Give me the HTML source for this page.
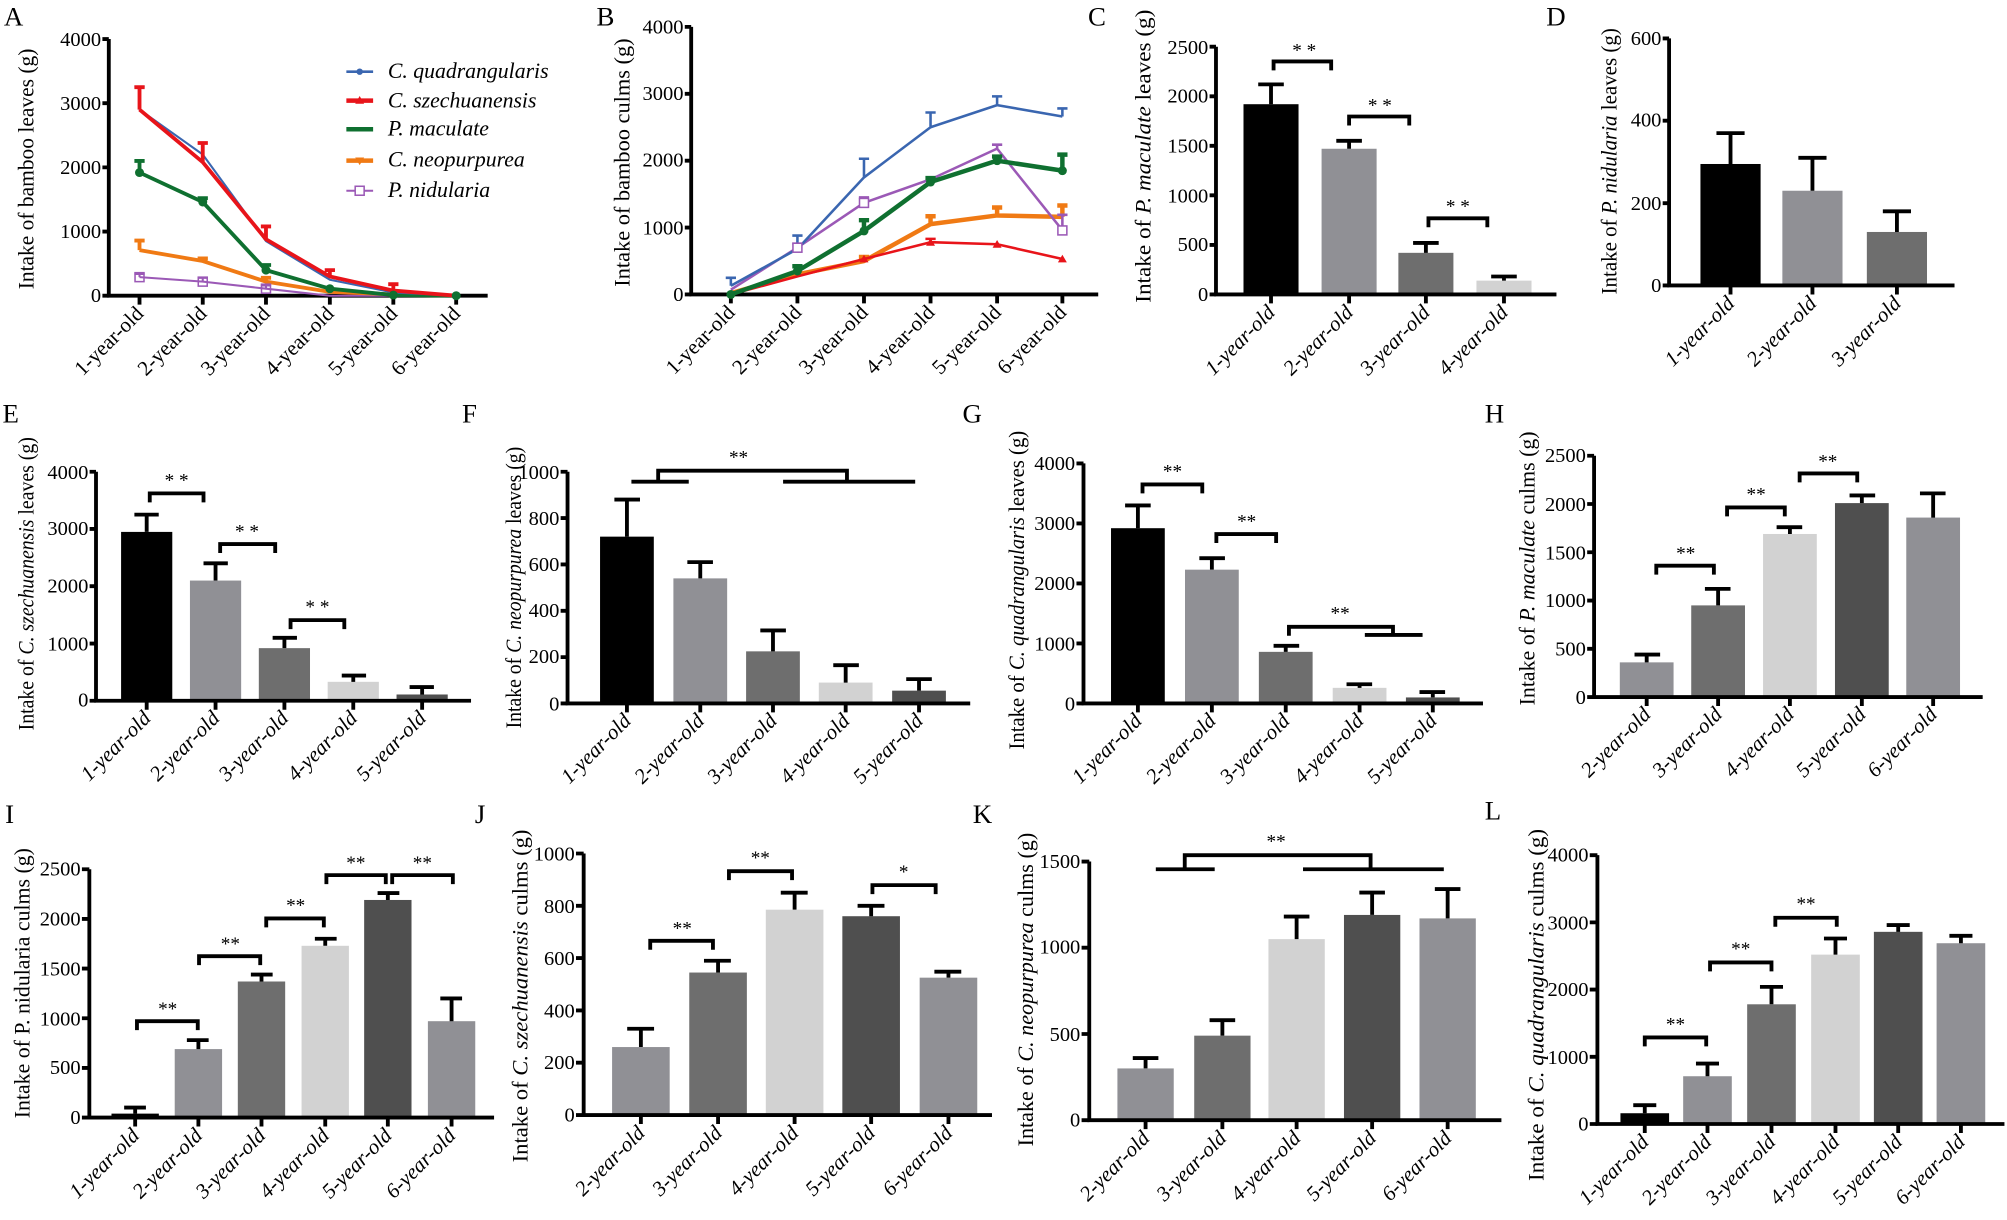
<!DOCTYPE html>
<html><head><meta charset="utf-8"><style>
html,body{margin:0;padding:0;background:#fff}
svg{display:block}
text{font-family:"Liberation Serif",serif;fill:#000}
.ax{stroke:#000;stroke-width:3;fill:none}
.eb{stroke:#000;stroke-width:3;fill:none}
.yt{font-size:16px;text-anchor:end}
.xt{font-size:16.5px;text-anchor:end}
.xi{font-size:16.5px;text-anchor:end;font-style:italic}
.tt{font-size:17px;text-anchor:middle}
.pl{font-size:21px}
.st{font-size:15px;text-anchor:middle}
.lg{font-size:17px;font-style:italic}
</style></head><body>
<svg width="2007" height="1220" viewBox="0 0 1568 953" preserveAspectRatio="none" xmlns="http://www.w3.org/2000/svg">
<rect width="1568" height="953" fill="#fff"/>
<text class="pl" x="3" y="20">A</text><text class="pl" x="466" y="20">B</text><text class="pl" x="850" y="20">C</text><text class="pl" x="1208" y="20">D</text>
<text class="pl" x="2" y="330">E</text><text class="pl" x="361" y="330">F</text><text class="pl" x="752" y="330">G</text><text class="pl" x="1160" y="330">H</text>
<text class="pl" x="4" y="643">I</text><text class="pl" x="371" y="643">J</text><text class="pl" x="760" y="643">K</text><text class="pl" x="1160" y="640">L</text>

<!-- ===== A ===== -->
<path class="ax" d="M85 30.5V231H381"/>
<path class="ax" stroke-width="2" d="M80 30.5H85M80 80.6H85M80 130.75H85M80 180.9H85M80 231H85M109 231v7M158.4 231v7M207.8 231v7M257.7 231v7M307.3 231v7M356.4 231v7"/>
<text class="yt" x="79" y="36">4000</text><text class="yt" x="79" y="86">3000</text><text class="yt" x="79" y="136">2000</text><text class="yt" x="79" y="186">1000</text><text class="yt" x="79" y="236">0</text>
<text class="tt" transform="translate(26,132) rotate(-90)" textLength="188" lengthAdjust="spacingAndGlyphs">Intake of bamboo leaves (g)</text>
<g fill="none" stroke-linejoin="round">
<path stroke="#9b59b6" stroke-width="1.6" d="M109 216.5L158.4 220L207.8 225.5L257.7 231L307.3 231L356.4 231M109 216.5V214M105 214h8M158.4 220V217M154.4 217h8M207.8 225.5V223M203.8 223h8"/>
<path stroke="#f07a14" stroke-width="3" d="M109 195.4L158.4 203.9L207.8 220L257.7 228L307.3 230L356.4 231M109 195.4V187.9M105 187.9h8M158.4 203.9V201.9M154.4 201.9h8M207.8 220V217M203.8 217h8"/>
<path stroke="#0f7030" stroke-width="3" d="M109 134.8L158.4 157.8L207.8 211L257.7 225.5L307.3 230.5L356.4 231M109 134.8V125.7M105 125.7h8M158.4 157.8V154.8M154.4 154.8h8M207.8 211V207M203.8 207h8"/>
<path stroke="#3a66b0" stroke-width="1.6" d="M109 85.6L158.4 120.7L207.8 188.4L257.7 218.5L307.3 228.5L356.4 231M109 85.6V67.6M105 67.6h8"/>
<path stroke="#e8141a" stroke-width="3" d="M109 85.6L158.4 126.7L207.8 186.9L257.7 216L307.3 227L356.4 231M109 85.6V68.1M105 68.1h8M158.4 126.7V111.7M154.4 111.7h8M207.8 186.9V176.9M203.8 176.9h8M257.7 216V211M253.7 211h8M307.3 227V222M303.3 222h8"/>
</g>
<g fill="#0f7030"><circle cx="109" cy="134.8" r="3.5"/><circle cx="158.4" cy="157.8" r="3.5"/><circle cx="207.8" cy="211" r="3.5"/><circle cx="257.7" cy="225.5" r="3.5"/><circle cx="307.3" cy="230.5" r="3.5"/><circle cx="356.4" cy="231" r="3.5"/></g>
<g fill="none" stroke="#9b59b6" stroke-width="1.2"><rect x="105.5" y="213" width="7" height="7"/><rect x="154.9" y="216.5" width="7" height="7"/><rect x="204.3" y="222" width="7" height="7"/></g>
<g fill="none">
<path stroke="#3a66b0" stroke-width="2" d="M270.6 56H291.5"/><circle cx="281" cy="56" r="2.5" fill="#3a66b0"/>
<path stroke="#e8141a" stroke-width="3.5" d="M270.6 78.6H291.5"/><path d="M277.5 81h7l-3.5-6z" fill="#e8141a"/>
<path stroke="#0f7030" stroke-width="3.5" d="M270.6 101H291.5"/>
<path stroke="#f07a14" stroke-width="3.5" d="M270.6 125.5H291.5"/><path d="M277.5 123h7l-3.5 6z" fill="#f07a14"/>
<path stroke="#9b59b6" stroke-width="1.6" d="M270.6 149H291.5"/><rect x="277.5" y="145.5" width="7" height="7" stroke="#9b59b6" stroke-width="1.2" fill="#fff"/>
</g>
<text class="lg" x="303" y="61">C. quadrangularis</text>
<text class="lg" x="303" y="84">C. szechuanensis</text>
<text class="lg" x="303" y="106">P. maculate</text>
<text class="lg" x="303" y="130">C. neopurpurea</text>
<text class="lg" x="303" y="154">P. nidularia</text>
<g class="xt">
<text transform="translate(113,246) rotate(-45)">1-year-old</text><text transform="translate(162.4,246) rotate(-45)">2-year-old</text><text transform="translate(211.8,246) rotate(-45)">3-year-old</text><text transform="translate(261.7,246) rotate(-45)">4-year-old</text><text transform="translate(311.3,246) rotate(-45)">5-year-old</text><text transform="translate(360.4,246) rotate(-45)">6-year-old</text>
</g>

<!-- ===== B ===== -->
<path class="ax" d="M540 21V230H858"/>
<path class="ax" stroke-width="2" d="M535 21H540M535 73.25H540M535 125.5H540M535 177.75H540M535 230H540M571 230v7M623 230v7M675 230v7M727 230v7M779 230v7M830 230v7"/>
<text class="yt" x="534" y="26">4000</text><text class="yt" x="534" y="78">3000</text><text class="yt" x="534" y="130">2000</text><text class="yt" x="534" y="183">1000</text><text class="yt" x="534" y="235">0</text>
<text class="tt" transform="translate(492,127) rotate(-90)" textLength="194" lengthAdjust="spacingAndGlyphs">Intake of bamboo culms (g)</text>
<g fill="none" stroke-linejoin="round">
<path stroke="#f07a14" stroke-width="3.5" d="M571 229L623 214.3L675 203.9L727 175.1L779 168.3L830 169.4M675 203.9V200.7M671 200.7h8M727 175.1V168.9M723 168.9h8M779 168.3V162.1M775 162.1h8M830 169.4V160.5M826 160.5h8"/>
<path stroke="#e8141a" stroke-width="2" d="M571 230L623 215.9L675 202.3L727 189.2L779 190.8L830 202.3M727 189.2V186.6M723 186.6h8"/>
<path stroke="#9b59b6" stroke-width="2" d="M571 226.3L623 193.4L675 158.4L727 140.1L779 116.1L830 179.8M623 193.4V190.3M619 190.3h8M675 158.4V154.2M671 154.2h8M779 116.1V113M775 113h8M830 179.8V167.8M826 167.8h8"/>
<path stroke="#0f7030" stroke-width="3.5" d="M571 230L623 211.7L675 180.4L727 142.2L779 125.5L830 133.3M623 211.7V208M619 208h8M675 180.4V172M671 172h8M727 142.2V139.1M723 139.1h8M779 125.5V122.3M775 122.3h8M830 133.3V120.8M826 120.8h8"/>
<path stroke="#3a66b0" stroke-width="2" d="M571 223.2L623 194.5L675 138.6L727 99.4L779 82.1L830 91M571 223.2V217M567 217h8M623 194.5V184M619 184h8M675 138.6V124M671 124h8M727 99.4V87.9M723 87.9h8M779 82.1V75.3M775 75.3h8M830 91V84.7M826 84.7h8"/>
</g>
<g fill="#0f7030"><circle cx="571" cy="230" r="3.5"/><circle cx="623" cy="211.7" r="3.5"/><circle cx="675" cy="180.4" r="3.5"/><circle cx="727" cy="142.2" r="3.5"/><circle cx="779" cy="125.5" r="3.5"/><circle cx="830" cy="133.3" r="3.5"/></g>
<g fill="#e8141a"><path d="M671.5 205h7l-3.5-6z"/><path d="M723.5 192h7l-3.5-6z"/><path d="M775.5 193.5h7l-3.5-6z"/><path d="M826.5 205h7l-3.5-6z"/></g>
<g fill="#fff" stroke="#9b59b6" stroke-width="1.2"><rect x="619.5" y="190" width="7" height="7"/><rect x="671.5" y="155" width="7" height="7"/><rect x="826.5" y="176.5" width="7" height="7"/></g>
<g class="xt">
<text transform="translate(575,245) rotate(-45)">1-year-old</text><text transform="translate(627,245) rotate(-45)">2-year-old</text><text transform="translate(679,245) rotate(-45)">3-year-old</text><text transform="translate(731,245) rotate(-45)">4-year-old</text><text transform="translate(783,245) rotate(-45)">5-year-old</text><text transform="translate(834,245) rotate(-45)">6-year-old</text>
</g>

<!-- ===== C ===== -->
<rect x="971.5" y="81.4" width="43" height="148.6" fill="#000"/><rect x="1032.5" y="116.2" width="43" height="113.8" fill="#909095"/><rect x="1092.5" y="197.5" width="43" height="32.5" fill="#6e6e6e"/><rect x="1153.5" y="219.2" width="43" height="10.8" fill="#d2d2d2"/>
<path class="eb" d="M993 81.4V65.9M983 65.9h20M1054 116.2V110M1044 110h20M1114 197.5V189.8M1104 189.8h20M1175 219.2V216M1165 216h20"/>
<path class="ax" d="M950 36.5V230H1216"/>
<path class="ax" stroke-width="2" d="M945 36.5H950M945 75.2H950M945 113.9H950M945 152.6H950M945 191.3H950M945 230H950M993 230v7M1054 230v7M1114 230v7M1175 230v7"/>
<text class="yt" x="944" y="42">2500</text><text class="yt" x="944" y="80">2000</text><text class="yt" x="944" y="119">1500</text><text class="yt" x="944" y="158">1000</text><text class="yt" x="944" y="196">500</text><text class="yt" x="944" y="235">0</text>
<text class="tt" transform="translate(899,122) rotate(-90)" textLength="229" lengthAdjust="spacingAndGlyphs">Intake of <tspan font-style="italic">P. maculate</tspan> leaves (g)</text>
<path class="eb" d="M995 55V48H1040V55M1054 98V91H1101V98M1116 177.5V170.5H1162V177.5"/>
<text class="st" x="1019" y="44">* *</text><text class="st" x="1078" y="87">* *</text><text class="st" x="1139" y="166">* *</text>
<g class="xi"><text transform="translate(997,245) rotate(-45)">1-year-old</text><text transform="translate(1058,245) rotate(-45)">2-year-old</text><text transform="translate(1118,245) rotate(-45)">3-year-old</text><text transform="translate(1179,245) rotate(-45)">4-year-old</text></g>

<!-- ===== D ===== -->
<rect x="1328.5" y="128.1" width="47" height="94.9" fill="#000"/><rect x="1392.5" y="149" width="47" height="74" fill="#909095"/><rect x="1458.5" y="181.2" width="47" height="41.8" fill="#6e6e6e"/>
<path class="eb" d="M1352 128.1V104M1341 104h22M1416 149V123.3M1405 123.3h22M1482 181.2V165.1M1471 165.1h22"/>
<path class="ax" d="M1304 30V223H1527"/>
<path class="ax" stroke-width="2" d="M1299 30H1304M1299 94.3H1304M1299 158.7H1304M1299 223H1304M1352 223v7M1416 223v7M1482 223v7"/>
<text class="yt" x="1298" y="35">600</text><text class="yt" x="1298" y="99">400</text><text class="yt" x="1298" y="164">200</text><text class="yt" x="1298" y="228">0</text>
<text class="tt" transform="translate(1263,126) rotate(-90)" textLength="208" lengthAdjust="spacingAndGlyphs">Intake of <tspan font-style="italic">P. nidularia</tspan> leaves (g)</text>
<g class="xi"><text transform="translate(1356,238) rotate(-45)">1-year-old</text><text transform="translate(1420,238) rotate(-45)">2-year-old</text><text transform="translate(1486,238) rotate(-45)">3-year-old</text></g>

<!-- ===== E ===== -->
<rect x="94.6" y="415.5" width="40" height="131.9" fill="#000"/><rect x="148.4" y="453.5" width="40" height="93.9" fill="#909095"/><rect x="202.2" y="506.3" width="40" height="41.1" fill="#6e6e6e"/><rect x="256" y="532.6" width="40" height="14.8" fill="#d2d2d2"/><rect x="309.8" y="542.5" width="40" height="4.9" fill="#4f4f4f"/>
<path class="eb" d="M114.6 415.5V402M105 402h19M168.4 453.5V440M159 440h19M222.2 506.3V498.2M213 498.2h19M276 532.6V527.7M267 527.7h19M329.8 542.5V536.7M320 536.7h19"/>
<path class="ax" d="M75 368.5V547.4H368"/>
<path class="ax" stroke-width="2" d="M70 368.5H75M70 413.2H75M70 457.9H75M70 502.7H75M70 547.4H75M114.6 547.4v7M168.4 547.4v7M222.2 547.4v7M276 547.4v7M329.8 547.4v7"/>
<text class="yt" x="69" y="374">4000</text><text class="yt" x="69" y="418">3000</text><text class="yt" x="69" y="463">2000</text><text class="yt" x="69" y="508">1000</text><text class="yt" x="69" y="552">0</text>
<text class="tt" transform="translate(26,456) rotate(-90)" textLength="229" lengthAdjust="spacingAndGlyphs">Intake of <tspan font-style="italic">C. szechuanensis</tspan> leaves (g)</text>
<path class="eb" d="M117 392.4V385.4H159V392.4M172 432V425H215V432M227 491.4V484.4H269V491.4"/>
<text class="st" x="138" y="380">* *</text><text class="st" x="193" y="420">* *</text><text class="st" x="248" y="479">* *</text>
<g class="xi"><text transform="translate(118.6,562) rotate(-45)">1-year-old</text><text transform="translate(172.4,562) rotate(-45)">2-year-old</text><text transform="translate(226.2,562) rotate(-45)">3-year-old</text><text transform="translate(280,562) rotate(-45)">4-year-old</text><text transform="translate(333.8,562) rotate(-45)">5-year-old</text></g>

<!-- ===== F ===== -->
<rect x="468.8" y="419.2" width="42" height="130.3" fill="#000"/><rect x="526.1" y="451.8" width="42" height="97.7" fill="#909095"/><rect x="582.9" y="508.8" width="42" height="40.7" fill="#6e6e6e"/><rect x="639.7" y="533.2" width="42" height="16.3" fill="#d2d2d2"/><rect x="697" y="539.5" width="42" height="10" fill="#4f4f4f"/>
<path class="eb" d="M489.8 419.2V390.2M480 390.2h20M547.1 451.8V439.1M537 439.1h20M603.9 508.8V492.5M594 492.5h20M660.7 533.2V519.6M651 519.6h20M718 539.5V530.5M708 530.5h20"/>
<path class="ax" d="M443.4 368.5V549.5H758"/>
<path class="ax" stroke-width="2" d="M438 368.5H443.4M438 404.7H443.4M438 440.9H443.4M438 477.1H443.4M438 513.3H443.4M438 549.5H443.4M489.8 549.5v7M547.1 549.5v7M603.9 549.5v7M660.7 549.5v7M718 549.5v7"/>
<text class="yt" x="437" y="374">1000</text><text class="yt" x="437" y="410">800</text><text class="yt" x="437" y="446">600</text><text class="yt" x="437" y="482">400</text><text class="yt" x="437" y="518">200</text><text class="yt" x="437" y="555">0</text>
<text class="tt" transform="translate(407,459) rotate(-90)" textLength="220" lengthAdjust="spacingAndGlyphs">Intake of <tspan font-style="italic">C. neopurpurea</tspan> leaves (g)</text>
<path class="eb" d="M514.2 376.3V367.7H661.7V376.3M493.3 376.3H538.1M611.8 376.3H715"/>
<text class="st" x="577" y="362">**</text>
<g class="xi"><text transform="translate(493.8,564) rotate(-45)">1-year-old</text><text transform="translate(551.1,564) rotate(-45)">2-year-old</text><text transform="translate(607.9,564) rotate(-45)">3-year-old</text><text transform="translate(664.7,564) rotate(-45)">4-year-old</text><text transform="translate(722,564) rotate(-45)">5-year-old</text></g>

<!-- ===== G ===== -->
<rect x="868" y="412.6" width="42" height="136.9" fill="#000"/><rect x="925.8" y="445" width="42" height="104.5" fill="#909095"/><rect x="983.5" y="509.2" width="42" height="40.3" fill="#6e6e6e"/><rect x="1041.2" y="537.3" width="42" height="12.2" fill="#d2d2d2"/><rect x="1098.4" y="544.8" width="42" height="4.7" fill="#4f4f4f"/>
<path class="eb" d="M889 412.6V394.8M879 394.8h20M946.8 445V436M937 436h20M1004.5 509.2V504.5M995 504.5h20M1062.2 537.3V534.5M1052 534.5h20M1119.4 544.8V540.6M1109 540.6h20"/>
<path class="ax" d="M846.5 362V549.5H1158.6"/>
<path class="ax" stroke-width="2" d="M841 362H846.5M841 408.9H846.5M841 455.75H846.5M841 502.6H846.5M841 549.5H846.5M889 549.5v7M946.8 549.5v7M1004.5 549.5v7M1062.2 549.5v7M1119.4 549.5v7"/>
<text class="yt" x="840" y="367">4000</text><text class="yt" x="840" y="414">3000</text><text class="yt" x="840" y="461">2000</text><text class="yt" x="840" y="508">1000</text><text class="yt" x="840" y="555">0</text>
<text class="tt" transform="translate(800,461) rotate(-90)" textLength="249" lengthAdjust="spacingAndGlyphs">Intake of <tspan font-style="italic">C. quadrangularis</tspan> leaves (g)</text>
<path class="eb" d="M892.6 385.4V378.4H939.3V385.4M950.3 424.2V417.2H997V424.2M1007 496.6V489.6H1088.3V496M1066.3 496H1111.4"/>
<text class="st" x="916" y="373">**</text><text class="st" x="974" y="412">**</text><text class="st" x="1047" y="484">**</text>
<g class="xi"><text transform="translate(893,564) rotate(-45)">1-year-old</text><text transform="translate(950.8,564) rotate(-45)">2-year-old</text><text transform="translate(1008.5,564) rotate(-45)">3-year-old</text><text transform="translate(1066.2,564) rotate(-45)">4-year-old</text><text transform="translate(1123.4,564) rotate(-45)">5-year-old</text></g>

<!-- ===== H ===== -->
<rect x="1265.5" y="517.4" width="42" height="27.1" fill="#909095"/><rect x="1321.3" y="472.9" width="42" height="71.6" fill="#6e6e6e"/><rect x="1377.4" y="417.1" width="42" height="127.4" fill="#d2d2d2"/><rect x="1433.6" y="393" width="42" height="151.5" fill="#4f4f4f"/><rect x="1489.3" y="404.3" width="42" height="140.2" fill="#909095"/>
<path class="eb" d="M1286.5 517.4V511.3M1277 511.3h20M1342.3 472.9V460M1332 460h20M1398.4 417.1V411.8M1388 411.8h20M1454.6 393V387M1445 387h20M1510.3 404.3V385.4M1500 385.4h20"/>
<path class="ax" d="M1245.4 356V544.5H1549"/>
<path class="ax" stroke-width="2" d="M1240 356H1245.4M1240 393.7H1245.4M1240 431.4H1245.4M1240 469.1H1245.4M1240 506.8H1245.4M1240 544.5H1245.4M1286.5 544.5v7M1342.3 544.5v7M1398.4 544.5v7M1454.6 544.5v7M1510.3 544.5v7"/>
<text class="yt" x="1239" y="361">2500</text><text class="yt" x="1239" y="399">2000</text><text class="yt" x="1239" y="437">1500</text><text class="yt" x="1239" y="474">1000</text><text class="yt" x="1239" y="512">500</text><text class="yt" x="1239" y="550">0</text>
<text class="tt" transform="translate(1199,444) rotate(-90)" textLength="214" lengthAdjust="spacingAndGlyphs">Intake of <tspan font-style="italic">P. maculate</tspan> culms (g)</text>
<path class="eb" d="M1294 448.9V441.9H1339V448.9M1349.3 403.4V396.4H1394.4V403.4M1406 376.8V369.8H1451V376.8"/>
<text class="st" x="1317" y="437">**</text><text class="st" x="1372" y="391">**</text><text class="st" x="1428" y="365">**</text>
<g class="xi"><text transform="translate(1290.5,559) rotate(-45)">2-year-old</text><text transform="translate(1346.3,559) rotate(-45)">3-year-old</text><text transform="translate(1402.4,559) rotate(-45)">4-year-old</text><text transform="translate(1458.6,559) rotate(-45)">5-year-old</text><text transform="translate(1514.3,559) rotate(-45)">6-year-old</text></g>

<!-- ===== I ===== -->
<rect x="87.1" y="869.9" width="37" height="3.1" fill="#000"/><rect x="136.5" y="819.5" width="37" height="53.5" fill="#909095"/><rect x="185.8" y="766.7" width="37" height="106.3" fill="#6e6e6e"/><rect x="235.6" y="738.8" width="37" height="134.2" fill="#d2d2d2"/><rect x="284.5" y="703" width="37" height="170" fill="#4f4f4f"/><rect x="334.3" y="797.7" width="37" height="75.3" fill="#909095"/>
<path class="eb" d="M105.6 869.9V865.2M97 865.2h17M155 819.5V812.5M146 812.5h17M204.3 766.7V761.3M196 761.3h17M254.1 738.8V733.3M246 733.3h17M303 703V697.6M295 697.6h17M352.8 797.7V779.9M344 779.9h17"/>
<path class="ax" d="M69.8 679V873H386"/>
<path class="ax" stroke-width="2" d="M64 679H69.8M64 717.8H69.8M64 756.6H69.8M64 795.4H69.8M64 834.2H69.8M64 873H69.8M105.6 873v7M155 873v7M204.3 873v7M254.1 873v7M303 873v7M352.8 873v7"/>
<text class="yt" x="63" y="684">2500</text><text class="yt" x="63" y="723">2000</text><text class="yt" x="63" y="762">1500</text><text class="yt" x="63" y="801">1000</text><text class="yt" x="63" y="839">500</text><text class="yt" x="63" y="878">0</text>
<text class="tt" transform="translate(23,768) rotate(-90)" textLength="211" lengthAdjust="spacingAndGlyphs">Intake of P. nidularia culms (g)</text>
<path class="eb" d="M107 804.7V797.7H154.5V804.7M155.5 753.9V746.9H203.3V753.9M208 724.4V717.4H253V724.4M255 690.6V683.6H301.4V690.6M306.4 690.6V683.6H353.8V690.6"/>
<text class="st" x="131" y="793">**</text><text class="st" x="180" y="742">**</text><text class="st" x="231" y="712">**</text><text class="st" x="278" y="679">**</text><text class="st" x="330" y="679">**</text>
<g class="xi"><text transform="translate(109.6,888) rotate(-45)">1-year-old</text><text transform="translate(159,888) rotate(-45)">2-year-old</text><text transform="translate(208.3,888) rotate(-45)">3-year-old</text><text transform="translate(258.1,888) rotate(-45)">4-year-old</text><text transform="translate(307,888) rotate(-45)">5-year-old</text><text transform="translate(356.8,888) rotate(-45)">6-year-old</text></g>

<!-- ===== J ===== -->
<rect x="478.2" y="817.9" width="45" height="53.1" fill="#909095"/><rect x="538.5" y="759.7" width="45" height="111.3" fill="#6e6e6e"/><rect x="598.3" y="710.6" width="45" height="160.4" fill="#d2d2d2"/><rect x="658.1" y="715.7" width="45" height="155.3" fill="#4f4f4f"/><rect x="718.5" y="763.7" width="45" height="107.3" fill="#909095"/>
<path class="eb" d="M500.7 817.9V803.6M490 803.6h21M561 759.7V750.5M550 750.5h21M620.8 710.6V697.3M610 697.3h21M680.6 715.7V707.6M670 707.6h21M741 763.7V759M730 759h21"/>
<path class="ax" d="M456 666.7V871H775"/>
<path class="ax" stroke-width="2" d="M450 666.7H456M450 707.6H456M450 748.4H456M450 789.3H456M450 830.1H456M450 871H456M500.7 871v7M561 871v7M620.8 871v7M680.6 871v7M741 871v7"/>
<text class="yt" x="449" y="672">1000</text><text class="yt" x="449" y="713">800</text><text class="yt" x="449" y="754">600</text><text class="yt" x="449" y="795">400</text><text class="yt" x="449" y="835">200</text><text class="yt" x="449" y="876">0</text>
<text class="tt" transform="translate(412,778) rotate(-90)" textLength="260" lengthAdjust="spacingAndGlyphs">Intake of <tspan font-style="italic">C. szechuanensis</tspan> culms (g)</text>
<path class="eb" d="M508 741.9V734.9H557V741.9M569.5 687.5V680.5H618.8V687.5M681.6 698.4V691.4H731V698.4"/>
<text class="st" x="533" y="730">**</text><text class="st" x="594" y="675">**</text><text class="st" x="706" y="686">*</text>
<g class="xi"><text transform="translate(504.7,886) rotate(-45)">2-year-old</text><text transform="translate(565,886) rotate(-45)">3-year-old</text><text transform="translate(624.8,886) rotate(-45)">4-year-old</text><text transform="translate(684.6,886) rotate(-45)">5-year-old</text><text transform="translate(745,886) rotate(-45)">6-year-old</text></g>

<!-- ===== K ===== -->
<rect x="873" y="834.6" width="44" height="40.4" fill="#909095"/><rect x="933" y="809" width="44" height="66" fill="#6e6e6e"/><rect x="991" y="733.6" width="44" height="141.4" fill="#d2d2d2"/><rect x="1050" y="714.7" width="44" height="160.3" fill="#4f4f4f"/><rect x="1109" y="717.4" width="44" height="157.6" fill="#909095"/>
<path class="eb" d="M895 834.6V826.5M885 826.5h20M955 809V796.9M945 796.9h20M1013 733.6V716M1003 716h20M1072 714.7V697.2M1062 697.2h20M1131 717.4V694.5M1121 694.5h20"/>
<path class="ax" d="M851 673V875H1173"/>
<path class="ax" stroke-width="2" d="M845 673H851M845 740.3H851M845 807.7H851M845 875H851M895 875v7M955 875v7M1013 875v7M1072 875v7M1131 875v7"/>
<text class="yt" x="844" y="678">1500</text><text class="yt" x="844" y="745">1000</text><text class="yt" x="844" y="813">500</text><text class="yt" x="844" y="880">0</text>
<text class="tt" transform="translate(807,773) rotate(-90)" textLength="245" lengthAdjust="spacingAndGlyphs">Intake of <tspan font-style="italic">C. neopurpurea</tspan> culms (g)</text>
<path class="eb" d="M925.6 679V668H1070.8V679M903 679H949M1018 679H1128"/>
<text class="st" x="997" y="662">**</text>
<g class="xi"><text transform="translate(899,890) rotate(-45)">2-year-old</text><text transform="translate(959,890) rotate(-45)">3-year-old</text><text transform="translate(1017,890) rotate(-45)">4-year-old</text><text transform="translate(1076,890) rotate(-45)">5-year-old</text><text transform="translate(1135,890) rotate(-45)">6-year-old</text></g>

<!-- ===== L ===== -->
<rect x="1266" y="869.6" width="38" height="8.4" fill="#000"/><rect x="1315" y="840.7" width="38" height="37.3" fill="#909095"/><rect x="1365" y="784.5" width="38" height="93.5" fill="#6e6e6e"/><rect x="1415" y="745.7" width="38" height="132.3" fill="#d2d2d2"/><rect x="1464" y="727.9" width="38" height="150.1" fill="#4f4f4f"/><rect x="1513" y="736.8" width="38" height="141.2" fill="#909095"/>
<path class="eb" d="M1285 869.6V863.3M1276 863.3h18M1334 840.7V830.8M1325 830.8h18M1384 784.5V770.9M1375 770.9h18M1434 745.7V733.1M1425 733.1h18M1483 727.9V722.6M1474 722.6h18M1532 736.8V731M1523 731h18"/>
<path class="ax" d="M1248 668V878H1566"/>
<path class="ax" stroke-width="2" d="M1242 668H1248M1242 720.5H1248M1242 773H1248M1242 825.5H1248M1242 878H1248M1285 878v7M1334 878v7M1384 878v7M1434 878v7M1483 878v7M1532 878v7"/>
<text class="yt" x="1241" y="673">4000</text><text class="yt" x="1241" y="726">3000</text><text class="yt" x="1241" y="778">2000</text><text class="yt" x="1241" y="831">1000</text><text class="yt" x="1241" y="883">0</text>
<text class="tt" transform="translate(1206,785) rotate(-90)" textLength="275" lengthAdjust="spacingAndGlyphs">Intake of <tspan font-style="italic">C. quadrangularis</tspan> culms (g)</text>
<path class="eb" d="M1285 817.4V810.4H1333V817.4M1336 758.8V751.8H1384V758.8M1387 723.9V716.9H1435V723.9"/>
<text class="st" x="1309" y="805">**</text><text class="st" x="1360" y="746">**</text><text class="st" x="1411" y="711">**</text>
<g class="xi"><text transform="translate(1289,893) rotate(-45)">1-year-old</text><text transform="translate(1338,893) rotate(-45)">2-year-old</text><text transform="translate(1388,893) rotate(-45)">3-year-old</text><text transform="translate(1438,893) rotate(-45)">4-year-old</text><text transform="translate(1487,893) rotate(-45)">5-year-old</text><text transform="translate(1536,893) rotate(-45)">6-year-old</text></g>
</svg>
</body></html>
